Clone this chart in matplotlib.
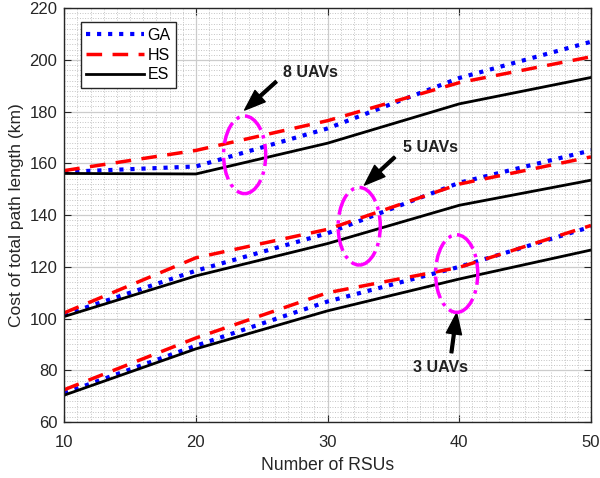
import matplotlib.pyplot as plt
from matplotlib.patches import Ellipse
from matplotlib.ticker import MultipleLocator

plt.rcParams['font.family'] = ['Liberation Sans', 'DejaVu Sans']

OUTPUT_FILE = 'out.png'

# number of RSUs
RSUS = [10, 20, 30, 40, 50]

# 8 UAVs
GA_8 = [156.7, 158.8, 173.5, 193.0, 207.0]
HS_8 = [157.2, 165.0, 176.5, 191.2, 201.2]
ES_8 = [156.1, 155.9, 167.8, 183.0, 193.2]

# 5 UAVs
GA_5 = [101.5, 118.5, 133.0, 152.5, 165.0]
HS_5 = [102.2, 123.5, 134.5, 152.0, 162.5]
ES_5 = [100.8, 116.5, 129.0, 143.8, 153.5]

# 3 UAVs
GA_3 = [71.2, 89.5, 106.6, 120.0, 135.5]
HS_3 = [72.5, 92.5, 110.0, 119.8, 136.0]
ES_3 = [70.4, 88.3, 103.0, 115.3, 126.5]

LABELS = ['GA', 'HS', 'ES']

# (label, tip of arrow, tail of arrow, ellipse centre, text position)
MARKS = [
    ('8 UAVs', (23.7, 180.6), (26.1, 191.6), (23.7, 163.3), (28.7, 195.2)),
    ('5 UAVs', (32.8, 151.6), (35.1, 162.4), (32.4, 135.7), (37.8, 166.0)),
    ('3 UAVs', (39.8, 102.1), (39.4, 86.8), (39.8, 117.4), (38.6, 81.0)),
]

fig = plt.figure(figsize=(6, 4.78), dpi=100)
ax = fig.add_axes([0.107, 0.117, 0.878, 0.866])

# GA, HS, ES styles
styles = [(':', 'blue', 3.0), ('--', 'red', 2.5), ('-', 'black', 2.0)]
groups = [(GA_8, HS_8, ES_8), (GA_5, HS_5, ES_5), (GA_3, HS_3, ES_3)]

for g, group in enumerate(groups):
    for series, (ls, c, lw), lab in zip(group, styles, LABELS):
        kw = dict(linestyle=ls, color=c, linewidth=lw)
        if ls == '--':
            kw['dashes'] = (4.5, 3)
        ax.plot(RSUS, series, label=lab if g == 0 else None, **kw)

# ellipses, arrows and labels
for text, tip, tail, centre, pos in MARKS:
    ax.add_patch(Ellipse(centre, 3.2, 30, fill=False, edgecolor='magenta',
                         linewidth=2.5, linestyle='-.', zorder=5))
    ax.annotate('', xy=tip, xytext=tail,
                arrowprops=dict(facecolor='black', edgecolor='black', width=2.0,
                                headwidth=11, headlength=15, shrink=0))
    ax.text(pos[0], pos[1], text, fontsize=11.5, fontweight='bold',
            ha='center', va='center', color='#202020')

ax.set_xlim(10, 50)
ax.set_ylim(60, 220)
ax.xaxis.set_major_locator(MultipleLocator(10))
ax.yaxis.set_major_locator(MultipleLocator(20))
ax.xaxis.set_minor_locator(MultipleLocator(1))
ax.yaxis.set_minor_locator(MultipleLocator(2))

ax.grid(which='major', color='#cccccc', linewidth=0.9)
ax.grid(which='minor', color='#c4c4c4', linestyle=':', linewidth=0.7)
ax.set_axisbelow(True)

ax.tick_params(which='major', direction='in', length=5, top=True, right=True,
               labelsize=12, colors='#262626')
ax.tick_params(axis='x', which='major', pad=9)
ax.tick_params(axis='y', which='major', pad=5)
ax.tick_params(which='minor', length=0)
for s in ax.spines.values():
    s.set_color('#262626')
    s.set_linewidth(1.0)

ax.set_xlabel('Number of RSUs', fontsize=12.7, color='#262626', labelpad=5)
ax.set_ylabel('Cost of total path length (km)', fontsize=12.5, color='#262626')

leg = ax.legend(loc='upper left', bbox_to_anchor=(0.031, 0.966), borderaxespad=0,
                fontsize=11.5, handlelength=3.6, fancybox=False, framealpha=1,
                borderpad=0.35, labelspacing=0.3, handletextpad=0.25)
leg.get_frame().set_edgecolor('#262626')
leg.get_frame().set_linewidth(1.0)

plt.savefig(OUTPUT_FILE, dpi=100)
